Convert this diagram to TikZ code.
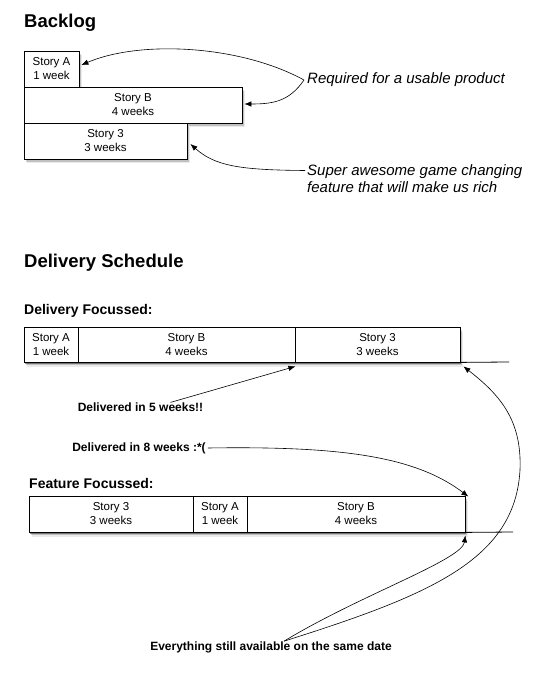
\documentclass[tikz,border=0pt]{standalone}
\usepackage{fontspec}
\setmainfont{Liberation Sans}
\usetikzlibrary{arrows.meta,shadows}

\tikzset{
  cell/.style={draw, fill=white, line width=0.8pt, inner sep=0pt, minimum height=36, align=center,
    font=\fontsize{11.5}{14}\selectfont,
    drop shadow={shadow xshift=3pt, shadow yshift=-4.5pt, fill=black, opacity=0.08},
    drop shadow={shadow xshift=2pt, shadow yshift=-3pt, fill=black, opacity=0.18},
    drop shadow={shadow xshift=1pt, shadow yshift=-1.5pt, fill=black, opacity=0.4}},
  bigtitle/.style={anchor=west, inner sep=0pt, font=\fontsize{18.5}{22}\selectfont\bfseries},
  subtitle/.style={anchor=west, inner sep=0pt, font=\fontsize{14}{17}\selectfont\bfseries},
  notetext/.style={anchor=west, inner sep=0pt, align=left, font=\fontsize{15}{17}\selectfont\itshape},
  smalltext/.style={inner sep=0pt, font=\fontsize{12}{14}\selectfont\bfseries},
  ptr/.style={-{Latex[length=7pt,width=5.5pt]}, line width=0.6pt}
}

\begin{document}
\begin{tikzpicture}[x=1pt, y=-1pt]
\fill[white] (0,0) rectangle (557,684);
\useasboundingbox (0,0) rectangle (557,684);

\node[bigtitle] (backlog) at (24,23) {Backlog};
\node[cell, minimum width=55] (storyA) at (51.5,69) {Story A\\1 week};
\node[cell, minimum width=218] (storyB) at (133,105) {Story B\\4 weeks};
\node[cell, minimum width=163] (story3) at (105.5,141) {Story 3\\3 weeks};
\node[notetext] (req) at (307,80) {Required for a usable product};
\node[notetext] (super) at (307,178.5) {Super awesome game changing\\feature that will make us rich};
\draw[ptr] ([xshift=-3pt]req.west) .. controls (240,45) and (140,40) .. ([xshift=2pt,yshift=4pt]storyA.east);
\draw[ptr] ([xshift=-3pt]req.west) .. controls (289,102) and (272,104) .. ([xshift=2pt,yshift=1pt]storyB.east);
\draw[ptr] ([xshift=-2pt,yshift=8pt]super.west) .. controls (240,170) and (215,166) .. ([xshift=3pt,yshift=-3pt]story3.east);

\node[bigtitle] (sched) at (24,263) {Delivery Schedule};
\node[subtitle] (dfoc) at (24,311) {Delivery Focussed:};
\node[cell, minimum width=54, minimum height=35] (dA) at (51,344.5) {Story A\\1 week};
\node[cell, minimum width=217, minimum height=35] (dB) at (186.5,344.5) {Story B\\4 weeks};
\node[cell, minimum width=165, minimum height=35] (d3) at (377.5,344.5) {Story 3\\3 weeks};
\coordinate (dend) at (509,362);
\draw[line width=0.8pt] (d3.south east) -- (dend);
\node[smalltext] (d5) at (140.5,407) {Delivered in 5 weeks!!};
\node[smalltext] (d8) at (139,448) {Delivered in 8 weeks :*(};
\draw[ptr] ([xshift=30pt]d5.north) -- ([yshift=-4pt]dB.south east);

\node[subtitle] (ffoc) at (29,483) {Feature Focussed:};
\node[cell, minimum width=164] (f3) at (111,514) {Story 3\\3 weeks};
\node[cell, minimum width=54] (fA) at (220,514) {Story A\\1 week};
\node[cell, minimum width=218] (fB) at (356,514) {Story B\\4 weeks};
\coordinate (fend) at (513,532);
\draw[line width=0.8pt] (fB.south east) -- (fend);
\draw[ptr] ([xshift=2pt]d8.east) .. controls (340,446) and (415,456) .. ([xshift=3pt,yshift=-1pt]fB.north east);

\node[smalltext] (ev) at (271,647) {Everything still available on the same date};
\draw[ptr] ([xshift=13pt]ev.north) .. controls (360,595) and (462,560) .. ([yshift=-3pt]fB.south east);
\draw[ptr] ([xshift=13pt]ev.north) .. controls (430,595) and (515,560) .. (520,470)
  .. controls (522,420) and (500,395) .. ([xshift=3pt,yshift=-4pt]d3.south east);
\end{tikzpicture}
\end{document}
